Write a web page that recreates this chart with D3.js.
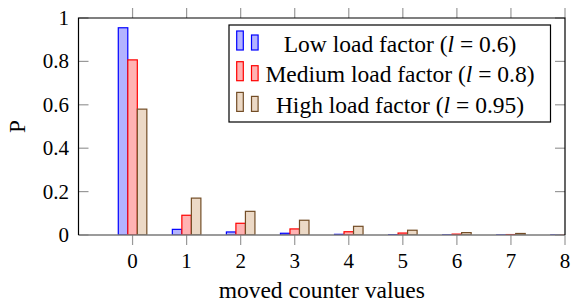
<!DOCTYPE html>
<html>
<head>
<meta charset="utf-8">
<script src="https://d3js.org/d3.v7.min.js"></script>
<style>
  body { margin: 0; background: #fff; }
</style>
</head>
<body>
<div id="chart"></div>
<script>
// moved counter values on the x axis
var categories = [0, 1, 2, 3, 4, 5, 6, 7, 8];
var lowLoad = [0.955, 0.026, 0.014, 0.008, 0.003, 0.001, 0.0005, 0.0003, 0.0002];
var mediumLoad = [0.807, 0.091, 0.054, 0.028, 0.015, 0.009, 0.004, 0.002, 0.001];
var highLoad = [0.58, 0.17, 0.109, 0.068, 0.04, 0.022, 0.011, 0.007, 0.004];
var yTicks = [0, 0.2, 0.4, 0.6, 0.8, 1];
var seriesNames = ["Low load factor", "Medium load factor", "High load factor"];
var seriesL = ["0.6", "0.8", "0.95"];

var width = 571, height = 306;
var margin = { top: 18, right: 6, bottom: 71, left: 78.5 };
var serif = "Liberation Serif";

var svg = d3.select("#chart").append("svg")
    .attr("width", width)
    .attr("height", height);

var x = d3.scaleLinear()
    .domain([-1, 8])
    .range([margin.left, width - margin.right]);

var y = d3.scaleLinear()
    .domain([0, 1])
    .range([height - margin.bottom, margin.top]);

var barW = x(0.176) - x(0);

var styles = [
    { stroke: "#0000ff", fill: "#b3b3ff", values: lowLoad },
    { stroke: "#ff0000", fill: "#ffb3b3", values: mediumLoad },
    { stroke: "#734d26", fill: "#ecd9c6", values: highLoad }
];

svg.append("clipPath").attr("id", "plotclip")
    .append("rect")
    .attr("x", x(-1)).attr("y", y(1))
    .attr("width", x(8) - x(-1))
    .attr("height", y(0) - y(1));

// bars
var bars = svg.append("g").attr("clip-path", "url(#plotclip)");
styles.forEach(function (s, i) {
    bars.selectAll(null)
        .data(s.values)
        .enter()
        .append("rect")
        .attr("x", function (d, j) { return x(categories[j]) + (i - 1.5) * barW; })
        .attr("y", function (d) { return y(d); })
        .attr("width", barW)
        .attr("height", function (d) { return y(0) - y(d); })
        .attr("fill", s.fill)
        .attr("stroke", s.stroke)
        .attr("stroke-width", 1.2);
});

// ticks (x outside, y inside)
var ticks = svg.append("g").attr("stroke", "#999").attr("stroke-width", 1.2);
categories.forEach(function (c) {
    ticks.append("line").attr("x1", x(c)).attr("x2", x(c)).attr("y1", y(0)).attr("y2", y(0) + 10);
    ticks.append("line").attr("x1", x(c)).attr("x2", x(c)).attr("y1", y(1)).attr("y2", y(1) - 10);
});
yTicks.forEach(function (t) {
    ticks.append("line").attr("x1", x(-1)).attr("x2", x(-1) + 10).attr("y1", y(t)).attr("y2", y(t));
    ticks.append("line").attr("x1", x(8)).attr("x2", x(8) - 10).attr("y1", y(t)).attr("y2", y(t));
});

// frame
svg.append("line")
    .attr("x1", x(-1)).attr("x2", x(8)).attr("y1", y(0)).attr("y2", y(0))
    .attr("stroke", "#7a7a7a").attr("stroke-width", 1.6);
svg.append("path")
    .attr("d", "M" + x(-1) + "," + y(0) + "V" + y(1) + "H" + x(8) + "V" + y(0))
    .attr("fill", "none")
    .attr("stroke", "#000")
    .attr("stroke-width", 1.2);

// tick labels
svg.selectAll(".xl")
    .data(categories)
    .enter()
    .append("text")
    .attr("x", function (d) { return x(d); })
    .attr("y", 268)
    .attr("text-anchor", "middle")
    .attr("font-family", serif)
    .attr("font-size", 21)
    .text(function (d) { return d; });

svg.selectAll(".yl")
    .data(yTicks)
    .enter()
    .append("text")
    .attr("x", 69)
    .attr("y", function (d) { return y(d); })
    .attr("dy", "0.33em")
    .attr("text-anchor", "end")
    .attr("font-family", serif)
    .attr("font-size", 21)
    .text(function (d) { return d; });

// axis titles
svg.append("text")
    .attr("x", (x(-1) + x(8)) / 2)
    .attr("y", 298)
    .attr("text-anchor", "middle")
    .attr("font-family", serif)
    .attr("font-size", 23.5)
    .text("moved counter values");

svg.append("text")
    .attr("transform", "translate(25," + (y(0) + y(1)) / 2 + ") rotate(-90)")
    .attr("text-anchor", "middle")
    .attr("font-family", serif)
    .attr("font-size", 23.5)
    .text("P");

// legend
var legend = svg.append("g");
legend.append("rect")
    .attr("x", 229).attr("y", 25)
    .attr("width", 321.5).attr("height", 97)
    .attr("fill", "#fff")
    .attr("stroke", "#000")
    .attr("stroke-width", 1.2);

styles.forEach(function (s, i) {
    var top = 31 + i * 30.7;
    legend.append("rect").attr("x", 236.7).attr("y", top)
        .attr("width", 6.6).attr("height", 19)
        .attr("fill", s.fill).attr("stroke", s.stroke).attr("stroke-width", 1.2);
    legend.append("rect").attr("x", 251.5).attr("y", top + 4)
        .attr("width", 6.6).attr("height", 15)
        .attr("fill", s.fill).attr("stroke", s.stroke).attr("stroke-width", 1.2);
    var t = legend.append("text")
        .attr("x", 400)
        .attr("y", top + 20.5)
        .attr("text-anchor", "middle")
        .attr("font-family", serif)
        .attr("font-size", 23.5);
    t.append("tspan").text(seriesNames[i] + " (");
    t.append("tspan").attr("font-style", "italic").text("l");
    t.append("tspan").text(" = " + seriesL[i] + ")");
});
</script>
</body>
</html>
